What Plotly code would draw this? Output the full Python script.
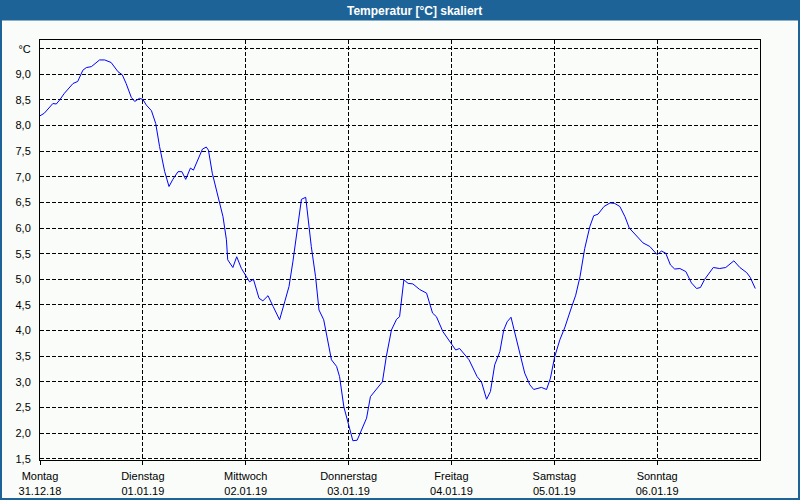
import plotly.graph_objects as go

# ---- data ----
hours = [0, 1, 3.0, 3.8, 4.6, 5.7, 7.7, 8.8, 10.0, 10.8, 12.0, 13.9, 15.1, 16.6, 18.2, 19.2,
         20.1, 21.3, 22.1, 23.2, 24.0, 24.8, 26.0, 27.0, 27.9, 29.1, 30.1, 31.0, 32.2, 33.1,
         34.0, 35.1, 35.8, 36.8, 37.9, 38.8, 39.3, 40.2, 41.5, 42.7, 43.5, 43.8, 45.0, 45.9,
         47.0, 48.0, 48.9, 49.8, 51.1, 52.0, 53.2, 54.4, 55.9, 57.1, 58.1, 59.0, 60.1, 61.0,
         62.0, 62.3, 63.3, 64.3, 65.1, 66.2, 67.2, 68.0, 69.2, 69.9, 70.9, 72.1, 73.0, 74.0,
         75.0, 76.2, 77.1, 78.5, 79.9, 80.8, 82.0, 83.2, 83.9, 84.9, 85.9, 87.0, 88.6, 90.2,
         91.6, 92.5, 94.0, 96.0, 97.0, 97.9, 100.1, 102.0, 103.0, 104.2, 105.1, 106.1, 107.3,
         108.2, 109.0, 109.9, 110.8, 112.0, 113.1, 114.3, 115.2, 117.0, 118.2, 119.1, 120.1,
         121.3, 122.5, 123.8, 125.0, 126.0, 127.1, 128.3, 129.2, 130.2, 131.6, 133.0, 134.1,
         135.3, 136.5, 137.5, 139.3, 140.7, 142.3, 144.0, 145.0, 146.0, 147.1, 148.1, 149.3,
         150.7, 152.0, 153.2, 154.1, 155.1, 157.1, 158.6, 160.0, 161.9, 163.3, 164.9, 165.7,
         166.9]
temps = [8.19, 8.24, 8.43, 8.42, 8.50, 8.63, 8.82, 8.86, 9.08, 9.13, 9.15, 9.28, 9.28, 9.23,
         9.05, 8.99, 8.82, 8.55, 8.47, 8.53, 8.51, 8.40, 8.29, 8.04, 7.59, 7.10, 6.81, 6.95,
         7.10, 7.10, 6.95, 7.17, 7.13, 7.33, 7.54, 7.58, 7.52, 7.07, 6.61, 6.22, 5.77, 5.38,
         5.23, 5.44, 5.21, 5.08, 4.95, 5.00, 4.63, 4.58, 4.68, 4.47, 4.21, 4.56, 4.86, 5.34,
         6.03, 6.56, 6.60, 6.35, 5.64, 5.05, 4.40, 4.21, 3.75, 3.43, 3.30, 3.10, 2.51, 2.12,
         1.85, 1.86, 2.06, 2.29, 2.71, 2.85, 3.00, 3.49, 4.01, 4.22, 4.27, 4.99, 4.92, 4.91,
         4.80, 4.73, 4.34, 4.27, 3.98, 3.74, 3.62, 3.65, 3.43, 3.10, 3.00, 2.66, 2.81, 3.33,
         3.59, 4.01, 4.17, 4.26, 3.95, 3.52, 3.17, 2.94, 2.85, 2.89, 2.85, 3.07, 3.49, 3.82,
         4.07, 4.40, 4.69, 5.05, 5.60, 6.03, 6.24, 6.27, 6.42, 6.49, 6.48, 6.42, 6.22, 6.00,
         5.83, 5.71, 5.64, 5.48, 5.55, 5.51, 5.28, 5.20, 5.21, 5.15, 4.93, 4.82, 4.84, 5.00,
         5.23, 5.21, 5.23, 5.36, 5.23, 5.13, 5.04, 4.82]

day_names = ["Montag", "Dienstag", "Mittwoch", "Donnerstag", "Freitag", "Samstag", "Sonntag"]
day_dates = ["31.12.18", "01.01.19", "02.01.19", "03.01.19", "04.01.19", "05.01.19", "06.01.19"]
day_hours = [0, 24, 48, 72, 96, 120, 144]
y_ticks = [1.5, 2.0, 2.5, 3.0, 3.5, 4.0, 4.5, 5.0, 5.5, 6.0, 6.5, 7.0, 7.5, 8.0, 8.5, 9.0, 9.5]
y_labels = ["1,5", "2,0", "2,5", "3,0", "3,5", "4,0", "4,5", "5,0", "5,5", "6,0", "6,5",
            "7,0", "7,5", "8,0", "8,5", "9,0", "°C"]
title_text = "Temperatur [°C] skaliert"

# ---- layout helpers (pixel -> paper) ----
W, H = 800, 500
L, R, T, B = 40, 40, 40, 40
PW, PH = W - L - R, H - T - B
def px(x):
    return (x - L) / PW
def py(y):
    return (H - B - y) / PH

BG = "#f9fcf9"
BAR = "#1e6397"
FONT = "Liberation Sans"

fig = go.Figure()
fig.add_trace(go.Scatter(x=hours, y=temps, mode="lines",
                         line=dict(color="#0000ff", width=1), hoverinfo="skip",
                         showlegend=False))

fig.update_layout(
    width=W, height=H,
    margin=dict(l=L, r=R, t=T, b=B, pad=0, autoexpand=False),
    paper_bgcolor=BG, plot_bgcolor=BG,
    font=dict(family=FONT, size=11, color="black"),
    showlegend=False,
    xaxis=dict(range=[0, 168], tickvals=day_hours, automargin=False,
               ticktext=[f"{n}<br>{d}" for n, d in zip(day_names, day_dates)],
               showgrid=True, gridcolor="black", griddash="4px,2px", gridwidth=1,
               showline=True, linecolor="black", linewidth=1, mirror=True,
               ticks="outside", ticklen=4, tickcolor="black", zeroline=False,
               ticklabelstandoff=2,
               tickfont=dict(family=FONT, size=11, color="black")),
    yaxis=dict(range=[1.474, 9.669], tickvals=y_ticks, ticktext=y_labels, automargin=False,
               showgrid=True, gridcolor="black", griddash="4px,2px", gridwidth=1,
               showline=True, linecolor="black", linewidth=1, mirror=True,
               ticks="", zeroline=False, ticklabelstandoff=6,
               tickfont=dict(family=FONT, size=11, color="black")),
    shapes=[
        dict(type="rect", xref="paper", yref="paper", x0=px(0), x1=px(800), y0=py(20.5), y1=py(0),
             fillcolor=BAR, line=dict(width=0), layer="above"),
        dict(type="rect", xref="paper", yref="paper", x0=px(1), x1=px(799), y0=py(499), y1=py(1),
             fillcolor="rgba(0,0,0,0)", line=dict(color=BAR, width=2), layer="above"),
    ],
    annotations=[
        dict(text=f"<b>{title_text}</b>", xref="paper", yref="paper", x=px(414), y=py(10.5),
             xanchor="center", yanchor="middle", showarrow=False,
             font=dict(family=FONT, size=12, color="white")),
    ],
)

fig.write_html("out.html", config={"displayModeBar": False, "staticPlot": True},
               post_script="document.body.style.margin='0';document.body.style.overflow='hidden';")
